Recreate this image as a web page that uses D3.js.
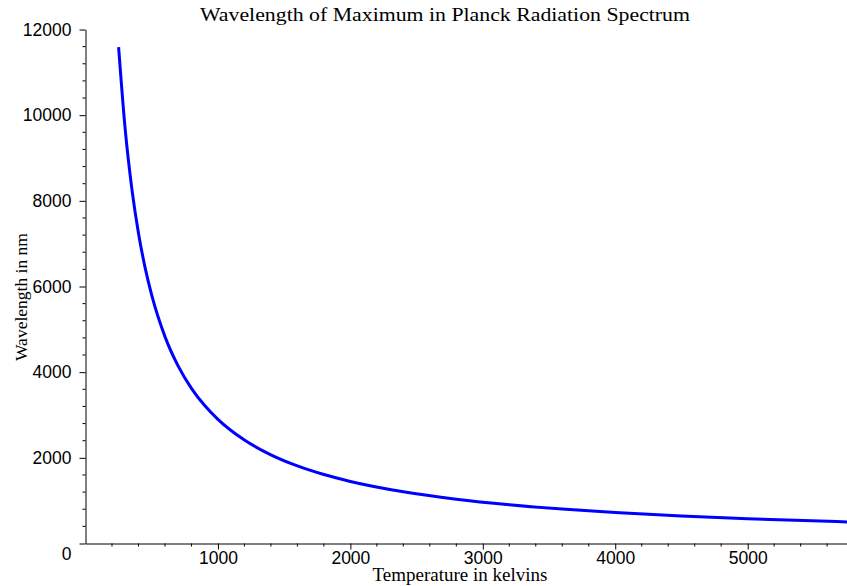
<!DOCTYPE html>
<html>
<head>
<meta charset="utf-8">
<script src="https://cdn.jsdelivr.net/npm/d3@7"></script>
<style>
  body { margin: 0; background: #fff; }
  .tick text { font-family: "Liberation Sans", Arial, sans-serif; font-size: 17.5px; fill: #000; }
  .lbl { font-family: "Liberation Serif", "Times New Roman", serif; fill: #000; }
</style>
</head>
<body>
<script>
// temperature (K) and wavelength of max (nm)
var temps = [250, 300, 350, 400, 450, 500, 600, 700, 800, 900, 1000, 1200, 1400, 1600, 1800,
             2000, 2400, 2800, 3200, 3600, 4000, 4500, 5000, 5750];
var waves = [11590, 9660, 8280, 7245, 6440, 5796, 4830, 4140, 3623, 3220, 2898, 2415, 2070, 1811, 1610,
             1449, 1208, 1035, 906, 805, 725, 644, 580, 504];
var xTicks = [1000, 2000, 3000, 4000, 5000];
var yTicks = [0, 2000, 4000, 6000, 8000, 10000, 12000];

var W = 847, H = 586;
var mLeft = 85.5, mRight = 847, mTop = 29.5, mBottom = 543.5;

var svg = d3.select("body").append("svg")
    .attr("width", W)
    .attr("height", H);

var x = d3.scaleLinear().domain([0, 5750]).range([mLeft, mRight]);
var y = d3.scaleLinear().domain([0, 12000]).range([mBottom, mTop]);

// minor ticks
var xMinor = d3.range(200, 5750, 200).filter(function(d) { return d % 1000 != 0; });
var yMinor = d3.range(400, 12000, 400).filter(function(d) { return d % 2000 != 0; });

svg.append("g").selectAll("line")
    .data(xMinor).enter().append("line")
    .attr("x1", function(d) { return x(d); }).attr("x2", function(d) { return x(d); })
    .attr("y1", mBottom).attr("y2", mBottom + 3)
    .attr("stroke", "#000");

svg.append("g").selectAll("line")
    .data(yMinor).enter().append("line")
    .attr("y1", function(d) { return y(d); }).attr("y2", function(d) { return y(d); })
    .attr("x1", mLeft).attr("x2", mLeft - 3)
    .attr("stroke", "#000");

// x-axis
var xAxis = svg.append("g")
    .attr("transform", "translate(0," + mBottom + ")")
    .call(d3.axisBottom(x).tickValues(xTicks).tickSize(6).tickSizeOuter(0).tickFormat(d3.format("d")));
xAxis.selectAll("text").attr("dy", "0.9em").attr("y", 5);

// y-axis
var yAxis = svg.append("g")
    .attr("transform", "translate(" + mLeft + ",0)")
    .call(d3.axisLeft(y).tickValues(yTicks).tickSize(6).tickSizeOuter(0).tickFormat(d3.format("d")));
yAxis.selectAll("text").attr("x", -14);
yAxis.selectAll(".tick").filter(function(d) { return d === 0; })
    .select("text").attr("dy", "0.9em");

svg.selectAll(".domain").attr("stroke", "#000");
svg.selectAll(".tick line").attr("stroke", "#000");

// curve
var line = d3.line()
    .x(function(d, i) { return x(temps[i]); })
    .y(function(d) { return y(d); })
    .curve(d3.curveMonotoneX);

svg.append("path")
    .attr("d", line(waves))
    .attr("fill", "none")
    .attr("stroke", "#0000ff")
    .attr("stroke-width", 3);

// labels
svg.append("text").attr("class", "lbl")
    .attr("x", 200).attr("y", 21)
    .attr("textLength", 490)
    .attr("lengthAdjust", "spacingAndGlyphs")
    .style("font-size", "18.5px")
    .text("Wavelength of Maximum in Planck Radiation Spectrum");

svg.append("text").attr("class", "lbl")
    .attr("x", 460).attr("y", 580.5)
    .attr("text-anchor", "middle")
    .style("font-size", "19px")
    .text("Temperature in kelvins");

svg.append("text").attr("class", "lbl")
    .attr("transform", "translate(27,361) rotate(-90)")
    .style("font-size", "17.5px")
    .text("Wavelength in nm");
</script>
</body>
</html>
